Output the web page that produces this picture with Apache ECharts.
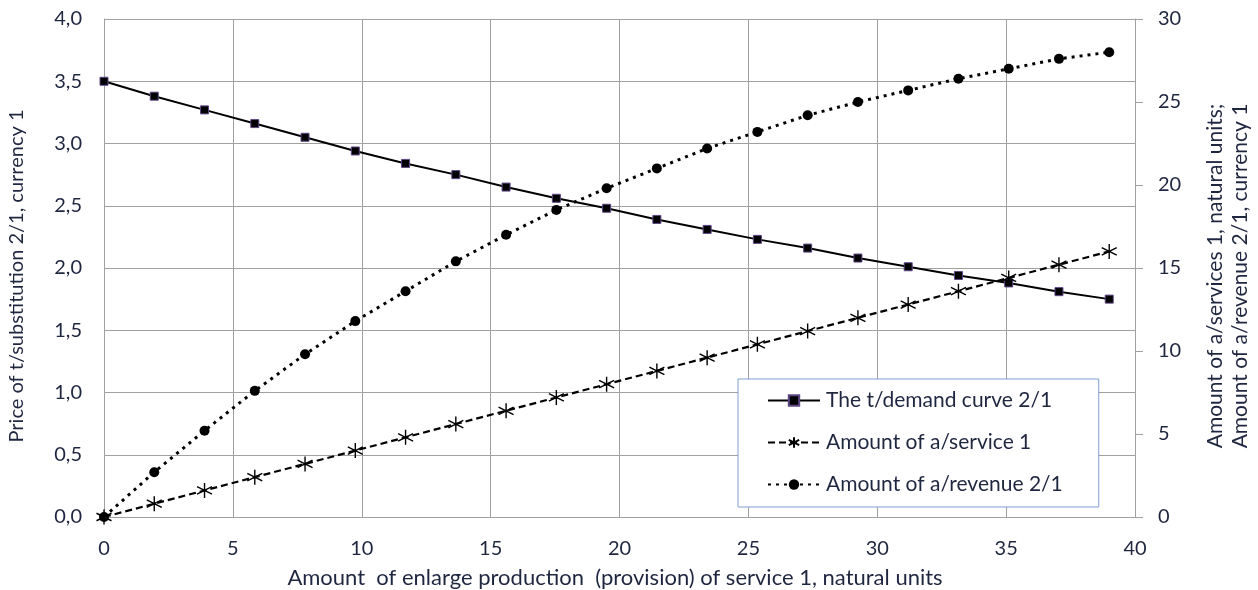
<!DOCTYPE html>
<html>
<head>
<meta charset="utf-8">
<script src="https://cdn.jsdelivr.net/npm/echarts@6/dist/echarts.min.js"></script>
<style>html,body{margin:0;padding:0;background:#fff}#c{width:1258px;height:590px}</style>
</head>
<body>
<div id="c"></div>
<script>
const xValues = [0, 1.95, 3.9, 5.85, 7.8, 9.75, 11.7, 13.65, 15.6, 17.55, 19.5, 21.45, 23.4, 25.35, 27.3, 29.25, 31.2, 33.15, 35.1, 37.05, 39.0];
const demandPrice = [3.50, 3.38, 3.27, 3.16, 3.05, 2.94, 2.84, 2.75, 2.65, 2.56, 2.48, 2.39, 2.31, 2.23, 2.16, 2.08, 2.01, 1.94, 1.88, 1.81, 1.75];
const serviceAmount = [0, 0.8, 1.6, 2.4, 3.2, 4.0, 4.8, 5.6, 6.4, 7.2, 8.0, 8.8, 9.6, 10.4, 11.2, 12.0, 12.8, 13.6, 14.4, 15.2, 16.0];
const revenueAmount = [0, 2.7, 5.2, 7.6, 9.8, 11.8, 13.6, 15.4, 17.0, 18.5, 19.8, 21.0, 22.2, 23.2, 24.2, 25.0, 25.7, 26.4, 27.0, 27.6, 28.0];
const seriesNames = ['The t/demand curve 2/1', 'Amount of a/service 1', 'Amount of a/revenue 2/1'];
const xTitle = 'Amount  of enlarge production  (provision) of service 1, natural units';
const yLeftTitle = 'Price of t/substitution 2/1, currency 1';
const yRightTitle = ['Amount of a/services 1, natural units;', 'Amount of a/revenue 2/1, currency 1'];

const FONT = 'Lato';
const LBL = '#1f2640';
const pairs = (ys) => xValues.map((x, i) => [x, ys[i]]);
const star = 'path://M5,0L5,10M0.67,2.5L9.33,7.5M0.67,7.5L9.33,2.5';

const chart = echarts.init(document.getElementById('c'), null, {renderer: 'canvas'});
chart.setOption({
  animation: false,
  backgroundColor: '#fff',
  textStyle: {fontFamily: FONT},
  grid: {left: 104, right: 123, top: 19, bottom: 73, containLabel: false},
  xAxis: {
    type: 'value', min: 0, max: 40, interval: 5,
    axisLine: {show: true, lineStyle: {color: '#a0a0a0', width: 1}},
    axisTick: {show: false},
    axisLabel: {color: LBL, fontSize: 20, margin: 22, fontFamily: FONT},
    splitLine: {show: true, lineStyle: {color: '#a0a0a0', width: 1}}
  },
  yAxis: [
    {
      type: 'value', min: 0, max: 4, interval: 0.5, position: 'left',
      axisLine: {show: true, lineStyle: {color: '#a0a0a0'}},
      axisTick: {show: false},
      axisLabel: {color: LBL, fontSize: 20, margin: 22, fontFamily: FONT,
        formatter: v => v.toFixed(1).replace('.', ',')},
      splitLine: {show: true, lineStyle: {color: '#a0a0a0', width: 1}}
    },
    {
      type: 'value', min: 0, max: 30, interval: 5, position: 'right',
      axisLine: {show: true, lineStyle: {color: '#a0a0a0'}},
      axisTick: {show: true, length: 8, inside: false, lineStyle: {color: '#a0a0a0'}},
      axisLabel: {color: LBL, fontSize: 20, margin: 23, fontFamily: FONT},
      splitLine: {show: false}
    }
  ],
  legend: {
    orient: 'vertical', left: 738, top: 379,
    backgroundColor: '#fff', borderColor: '#7f9fd0', borderWidth: 1,
    padding: [11, 36, 12, 29], itemGap: 21, itemWidth: 52, itemHeight: 13,
    textStyle: {color: LBL, fontSize: 21, fontFamily: FONT, padding: [0, 0, 0, 1]},
    data: seriesNames.map(n => ({name: n}))
  },
  graphic: [
    {type: 'text', x: 615, y: 578, style: {text: xTitle, fill: LBL, font: '22px ' + FONT, align: 'center', verticalAlign: 'middle'}},
    {type: 'text', x: 17, y: 276, rotation: Math.PI / 2, style: {text: yLeftTitle, fill: LBL, font: '20px ' + FONT, align: 'center', verticalAlign: 'middle'}},
    {type: 'text', x: 1215, y: 276, rotation: Math.PI / 2, style: {text: yRightTitle[0], fill: LBL, font: '21px ' + FONT, align: 'center', verticalAlign: 'middle'}},
    {type: 'text', x: 1240, y: 276, rotation: Math.PI / 2, style: {text: yRightTitle[1], fill: LBL, font: '21px ' + FONT, align: 'center', verticalAlign: 'middle'}}
  ],
  series: [
    {
      name: seriesNames[0], type: 'line', yAxisIndex: 0, data: pairs(demandPrice),
      symbol: 'rect', symbolSize: 8, showAllSymbol: true,
      lineStyle: {color: '#000', width: 2, type: 'solid'},
      itemStyle: {color: '#000', borderColor: '#5e4585', borderWidth: 1}
    },
    {
      name: seriesNames[1], type: 'line', yAxisIndex: 1, data: pairs(serviceAmount),
      symbol: star, symbolSize: 15, showAllSymbol: true,
      lineStyle: {color: '#000', width: 2.2, type: [7, 4]},
      itemStyle: {color: 'rgba(0,0,0,0)', borderColor: '#000', borderWidth: 1.4}
    },
    {
      name: seriesNames[2], type: 'line', yAxisIndex: 1, data: pairs(revenueAmount),
      symbol: 'circle', symbolSize: 10, showAllSymbol: true,
      lineStyle: {color: '#000', width: 3, type: [3, 5]},
      itemStyle: {color: '#000'}
    }
  ]
});
</script>
</body>
</html>
